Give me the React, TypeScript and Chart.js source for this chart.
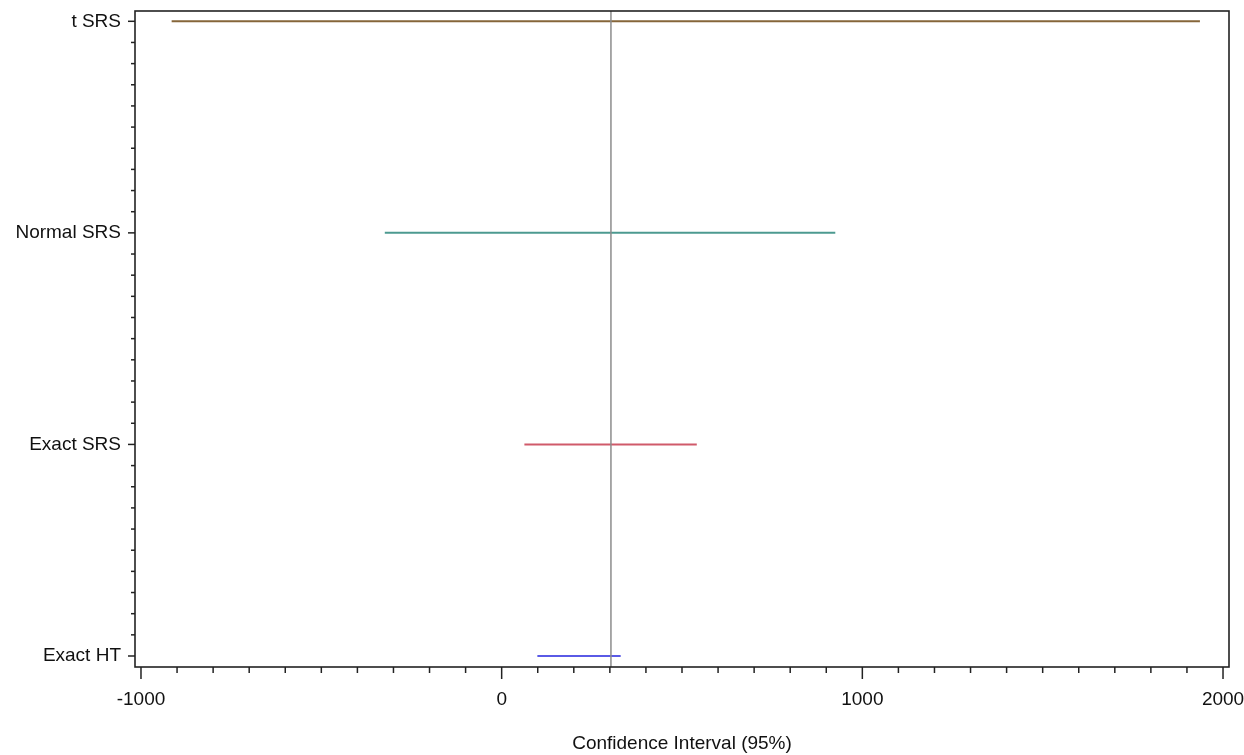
import React, { useEffect, useRef } from 'react';
import { Chart, registerables } from 'chart.js';

Chart.register(...registerables);

// ---- data ----
const categories = ['Exact HT', 'Exact SRS', 'Normal SRS', 't SRS'];
const lowerLimits = [99, 63, -324, -915];
const upperLimits = [330, 541, 925, 1936];
const lineColors = ['#5a5ae6', '#d05a6a', '#4c9a90', '#86663a'];
const referenceValue = 303;
const xTickLabels = [-1000, 0, 1000, 2000];
const xAxisTitle = 'Confidence Interval (95%)';

const X_MIN = -1016.6;
const X_MAX = 2016.6;
const Y_MIN = -0.052;
const Y_MAX = 3.0487;
const X_MINOR_STEP = 100;
const Y_MINOR_STEP = 0.1;

const FONT_FAMILY = '"Liberation Sans", Arial, sans-serif';
const FONT_SIZE = 19;
const TEXT_COLOR = '#111';
const AXIS_COLOR = '#222';

const ticksPlugin = {
  id: 'sasTicksFrame',
  afterDraw(chart: any) {
    const { ctx, chartArea } = chart;
    const xs = chart.scales.x;
    const ys = chart.scales.y;
    ctx.save();
    ctx.strokeStyle = AXIS_COLOR;
    ctx.lineWidth = 1.5;
    const xStart = xTickLabels[0];
    const xEnd = xTickLabels[xTickLabels.length - 1];
    const nX = Math.round((xEnd - xStart) / X_MINOR_STEP);
    for (let i = 0; i <= nX; i++) {
      const v = xStart + i * X_MINOR_STEP;
      const px = xs.getPixelForValue(v);
      const major = xTickLabels.includes(v);
      const len = major ? 12 : 6;
      ctx.beginPath();
      ctx.moveTo(px, chartArea.bottom);
      ctx.lineTo(px, chartArea.bottom + len);
      ctx.stroke();
    }
    const nY = Math.round((categories.length - 1) / Y_MINOR_STEP);
    for (let i = 0; i <= nY; i++) {
      const v = i * Y_MINOR_STEP;
      const py = ys.getPixelForValue(v);
      const major = i % Math.round(1 / Y_MINOR_STEP) === 0;
      const len = major ? 7 : 4;
      ctx.beginPath();
      ctx.moveTo(chartArea.left, py);
      ctx.lineTo(chartArea.left - len, py);
      ctx.stroke();
    }
    ctx.lineWidth = 1.6;
    ctx.strokeRect(
      chartArea.left,
      chartArea.top,
      chartArea.right - chartArea.left,
      chartArea.bottom - chartArea.top
    );
    ctx.restore();
  },
};

const zeroPadding = (scale: any) => {
  scale.paddingTop = 0;
  scale.paddingBottom = 0;
  scale.paddingLeft = 0;
  scale.paddingRight = 0;
};

export default function App() {
  const canvasRef = useRef<HTMLCanvasElement | null>(null);

  useEffect(() => {
    if (!canvasRef.current) return;

    const datasets: any[] = [
      {
        label: 'Reference',
        data: [
          { x: referenceValue, y: Y_MIN },
          { x: referenceValue, y: Y_MAX },
        ],
        borderColor: '#8c8c8c',
        borderWidth: 1.5,
        showLine: true,
        pointRadius: 0,
      },
    ];
    categories.forEach((cat, i) => {
      datasets.push({
        label: cat,
        data: [
          { x: lowerLimits[i], y: i },
          { x: upperLimits[i], y: i },
        ],
        borderColor: lineColors[i],
        backgroundColor: lineColors[i],
        borderWidth: 2,
        showLine: true,
        pointRadius: 0,
      });
    });

    const chart = new Chart(canvasRef.current, {
      type: 'scatter',
      data: { datasets },
      options: {
        animation: false,
        responsive: true,
        maintainAspectRatio: false,
        devicePixelRatio: 1,
        layout: { padding: { top: 11, right: 15, left: 0, bottom: 0 } },
        plugins: {
          legend: { display: false },
          tooltip: { enabled: false },
        },
        elements: { line: { tension: 0 } },
        scales: {
          x: {
            type: 'linear',
            min: X_MIN,
            max: X_MAX,
            afterBuildTicks: (scale: any) => {
              scale.ticks = xTickLabels.map((v) => ({ value: v }));
            },
            afterFit: (scale: any) => {
              scale.height = 88;
              zeroPadding(scale);
            },
            grid: { display: false, drawTicks: false },
            border: { display: false },
            ticks: {
              autoSkip: false,
              maxRotation: 0,
              padding: 21,
              color: TEXT_COLOR,
              font: { family: FONT_FAMILY, size: FONT_SIZE },
              callback: (v: any) => String(v),
            },
            title: {
              display: true,
              text: xAxisTitle,
              color: TEXT_COLOR,
              font: { family: FONT_FAMILY, size: FONT_SIZE },
              padding: { top: 0, bottom: 0 },
            },
          },
          y: {
            type: 'linear',
            min: Y_MIN,
            max: Y_MAX,
            afterBuildTicks: (scale: any) => {
              scale.ticks = categories.map((_, i) => ({ value: i }));
            },
            afterFit: (scale: any) => {
              scale.width = 135;
              zeroPadding(scale);
            },
            grid: { display: false, drawTicks: false },
            border: { display: false },
            ticks: {
              autoSkip: false,
              padding: 14,
              color: TEXT_COLOR,
              font: { family: FONT_FAMILY, size: FONT_SIZE },
              callback: (v: any) => categories[Math.round(Number(v))] ?? '',
            },
          },
        },
      },
      plugins: [ticksPlugin],
    });

    return () => chart.destroy();
  }, []);

  return (
    <div style={{ position: 'fixed', left: 0, top: 0, width: 1244, height: 755, background: '#fff' }}>
      <canvas ref={canvasRef} />
    </div>
  );
}
